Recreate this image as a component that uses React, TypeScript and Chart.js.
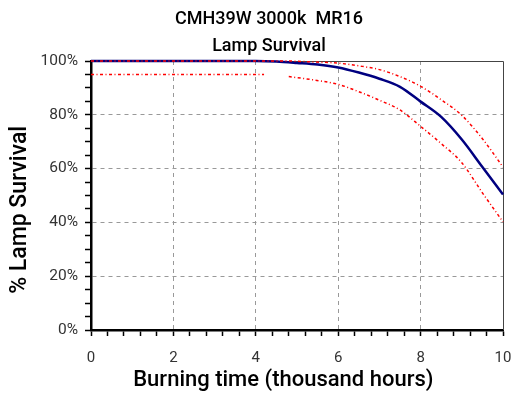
import { useEffect, useRef } from 'react';
import { Chart, registerables } from 'chart.js';

Chart.register(...registerables);

const titleLines = ['CMH39W 3000k  MR16', 'Lamp Survival'];
const xAxisTitle = 'Burning time (thousand hours)     ';
const yAxisTitle = '% Lamp Survival     ';

// median survival curve
const medianHours = [0, 4, 4.5, 5, 5.5, 6, 6.5, 7, 7.5, 8, 8.5, 9, 9.5, 10];
const medianSurvival = [100, 100, 99.8, 99.3, 98.7, 97.6, 95.7, 93.4, 90.4, 84.9, 79.2, 70.8, 60.6, 50.4];

// upper confidence bound
const upperHours = [0, 4.7, 5.3, 6, 6.5, 7, 7.5, 8, 8.5, 9, 9.5, 10];
const upperSurvival = [100, 100, 99.7, 99.2, 98.2, 96.8, 94.2, 90.6, 85.6, 79.8, 71.1, 60.6];

// lower confidence bound (null = gap)
const lowerHours = [0, 4.2, 4.5, 4.8, 5.3, 6, 6.5, 7, 7.5, 8, 8.5, 9, 9.5, 10];
const lowerSurvival: (number | null)[] = [95, 95, null, 94.2, 93.2, 91.3, 88.6, 85.4, 81.8, 75.7, 69.3, 62.2, 51.0, 40.2];

const xMin = 0;
const xMax = 10;
const xMinorStep = 0.4;
const xMajorStep = 2;
const yMin = 0;
const yMax = 100;
const yMinorStep = 5;
const yMajorStep = 20;

const FONT = "Roboto, 'DejaVu Sans', sans-serif";

const isMultiple = (v: number, step: number) => Math.abs(v / step - Math.round(v / step)) < 1e-6;

const framePlugin = {
  id: 'frame',
  beforeDatasetsDraw(chart: any) {
    const { ctx, chartArea } = chart;
    ctx.save();
    ctx.strokeStyle = '#444';
    ctx.lineWidth = 1;
    ctx.beginPath();
    ctx.moveTo(chartArea.left, chartArea.top + 0.5);
    ctx.lineTo(chartArea.right + 0.5, chartArea.top + 0.5);
    ctx.lineTo(chartArea.right + 0.5, chartArea.bottom);
    ctx.stroke();
    ctx.restore();
  },
};

export default function App() {
  const ref = useRef<HTMLCanvasElement | null>(null);

  useEffect(() => {
    document.body.style.margin = '0';
    if (!ref.current) return;
    const pts = (xs: number[], ys: (number | null)[]) => xs.map((x, i) => ({ x, y: ys[i] }));
    const redStyle = {
      borderColor: '#ff0000',
      borderWidth: 1.5,
      borderDash: [3, 2.5, 1, 2.5],
      pointRadius: 0,
      fill: false,
      clip: false as any,
      cubicInterpolationMode: 'monotone' as const,
    };
    const chart = new Chart(ref.current, {
      type: 'line',
      data: {
        datasets: [
          { label: 'Upper', data: pts(upperHours, upperSurvival) as any, ...redStyle },
          { label: 'Lower', data: pts(lowerHours, lowerSurvival) as any, spanGaps: false, ...redStyle },
          {
            label: 'Median',
            data: pts(medianHours, medianSurvival) as any,
            borderColor: '#000080',
            borderWidth: 2.5,
            pointRadius: 0,
            fill: false,
            clip: false as any,
            cubicInterpolationMode: 'monotone',
          },
        ],
      },
      options: {
        animation: false,
        responsive: false,
        devicePixelRatio: 1,
        layout: { padding: { left: 21, right: 0, top: 0, bottom: 0 } },
        plugins: {
          legend: { display: false },
          tooltip: { enabled: false },
          title: {
            display: true,
            text: titleLines,
            color: '#000',
            font: { family: FONT, size: 18, weight: '500', lineHeight: 1.5 },
            padding: { top: 6, bottom: 1 },
          },
        },
        scales: {
          x: {
            type: 'linear',
            min: xMin,
            max: xMax,
            afterFit: (s: any) => {
              s.height = 70;
              s.paddingRight = 14;
              s.paddingLeft = 0;
            },
            ticks: {
              stepSize: xMinorStep,
              autoSkip: false,
              maxRotation: 0,
              padding: 13,
              color: '#333',
              font: { family: FONT, size: 15 },
              callback: (v: any) => (isMultiple(Number(v), xMajorStep) ? String(Math.round(Number(v))) : ''),
            },
            grid: {
              color: (c: any) => {
                const v = c.tick ? c.tick.value : 0;
                return isMultiple(v, xMajorStep) && v > xMin && v < xMax ? '#999' : 'rgba(0,0,0,0)';
              },
              lineWidth: 1,
              tickColor: '#000',
              tickLength: 6,
              tickWidth: 1.5,
              drawTicks: true,
            },
            border: { display: true, color: '#000', width: 2.5, dash: [4, 4] },
            title: {
              display: true,
              text: xAxisTitle,
              color: '#000',
              font: { family: FONT, size: 22, weight: '500' },
              padding: { top: 0, bottom: 6 },
            },
          },
          y: {
            type: 'linear',
            min: yMin,
            max: yMax,
            afterFit: (s: any) => {
              s.width = 70;
            },
            ticks: {
              stepSize: yMinorStep,
              autoSkip: false,
              padding: 7,
              color: '#333',
              font: { family: FONT, size: 15.5 },
              callback: (v: any) => (isMultiple(Number(v), yMajorStep) ? `${Math.round(Number(v))}%` : ''),
            },
            grid: {
              color: (c: any) => {
                const v = c.tick ? c.tick.value : 0;
                return isMultiple(v, yMajorStep) && v > yMin && v < yMax ? '#999' : 'rgba(0,0,0,0)';
              },
              lineWidth: 1,
              tickColor: '#000',
              tickLength: 6,
              tickWidth: 1.5,
              drawTicks: true,
            },
            border: { display: true, color: '#000', width: 2.5, dash: [4, 4] },
            title: {
              display: true,
              text: yAxisTitle,
              color: '#000',
              font: { family: FONT, size: 23, weight: '500' },
              padding: { top: -14.8, bottom: 0 },
            },
          },
        },
      },
      plugins: [framePlugin],
    });
    return () => chart.destroy();
  }, []);

  return (
    <div style={{ position: 'relative', width: 517, height: 400, background: '#fff' }}>
      <canvas ref={ref} width={517} height={400} style={{ display: 'block', width: 517, height: 400 }} />
    </div>
  );
}
